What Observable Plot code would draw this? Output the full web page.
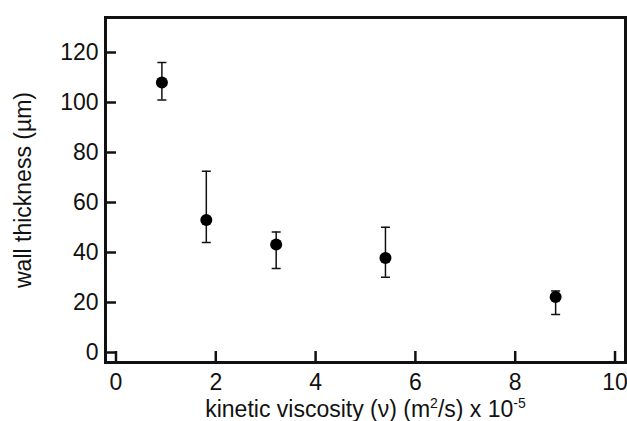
<!DOCTYPE html>
<html>
<head>
<meta charset="utf-8">
<script src="https://cdn.jsdelivr.net/npm/d3@7"></script>
<script src="https://cdn.jsdelivr.net/npm/@observablehq/plot@0.6"></script>
<style>
  html, body { margin: 0; padding: 0; background: white; }
</style>
</head>
<body>
<div id="chart"></div>
<script>
// Data
const viscosity = [0.92, 1.81, 3.21, 5.40, 8.81];      // x 10^-5 m^2/s
const thickness = [108, 53, 43.2, 37.8, 22.2];          // µm
const errHigh   = [116, 72.5, 48.2, 50.1, 24.6];
const errLow    = [101, 44, 33.6, 30.1, 15.2];
const xTicks = [0, 2, 4, 6, 8, 10];
const yTicks = [0, 20, 40, 60, 80, 100, 120];
const xLabel = "kinetic viscosity (ν) (m2/s) x 10-5";
const yLabel = "wall thickness (µm)";

const data = viscosity.map((v, i) => ({x: v, y: thickness[i], lo: errLow[i], hi: errHigh[i]}));

const capSymbol = {
  draw(context, size) {
    const w = Math.sqrt(size / Math.PI);
    context.moveTo(-w, 0);
    context.lineTo(w, 0);
  }
};

const ink = "#111";
const fs = 23;

const chart = Plot.plot({
  width: 627,
  height: 421,
  marginLeft: 105,
  marginRight: 2,
  marginTop: 17,
  marginBottom: 59,
  style: {fontFamily: "'Liberation Sans', Arial, sans-serif", fontSize: fs + "px", background: "white", color: ink},
  x: {domain: [-0.21, 10.21]},
  y: {domain: [-4, 134]},
  marks: [
    Plot.axisX({ticks: xTicks, tickSize: -11, tickPadding: 22, strokeWidth: 2.5, label: null, fontSize: fs}),
    Plot.axisY({ticks: yTicks, tickSize: -11, tickPadding: 18, strokeWidth: 2.5, label: null, fontSize: fs}),
    Plot.frame({stroke: ink, strokeWidth: 3}),
    Plot.ruleX(data, {x: "x", y1: "lo", y2: "hi", stroke: ink, strokeWidth: 1.5}),
    Plot.dot(data, {x: "x", y: "hi", symbol: capSymbol, r: 4.5, fill: "none", stroke: ink, strokeWidth: 1.5}),
    Plot.dot(data, {x: "x", y: "lo", symbol: capSymbol, r: 4.5, fill: "none", stroke: ink, strokeWidth: 1.5}),
    Plot.dot(data, {x: "x", y: "y", r: 6, fill: "black", stroke: "none"}),
    Plot.text([yLabel], {text: d => d, frameAnchor: "left", dx: -82, rotate: -90, fontSize: fs, fill: ink, lineAnchor: "middle", textAnchor: "middle"}),
    Plot.text([xLabel], {text: d => d, frameAnchor: "bottom", dy: 54, fontSize: fs, fill: ink, lineAnchor: "bottom", textAnchor: "middle", className: "xlab"})
  ]
});

document.getElementById("chart").appendChild(chart);

// Superscripts in the x-axis label
const t = chart.querySelector(".xlab text");
if (t) {
  const ns = "http://www.w3.org/2000/svg";
  const parts = [["kinetic viscosity (ν) (m", 0], ["2", 1], ["/s) x 10", 0], ["-5", 1]];
  while (t.firstChild) t.removeChild(t.firstChild);
  let up = false;
  for (const [s, sup] of parts) {
    const ts = document.createElementNS(ns, "tspan");
    ts.textContent = s;
    if (sup) { ts.setAttribute("dy", "-9"); ts.setAttribute("font-size", "14"); up = true; }
    else if (up) { ts.setAttribute("dy", "9"); up = false; }
    t.appendChild(ts);
  }
}
</script>
</body>
</html>
